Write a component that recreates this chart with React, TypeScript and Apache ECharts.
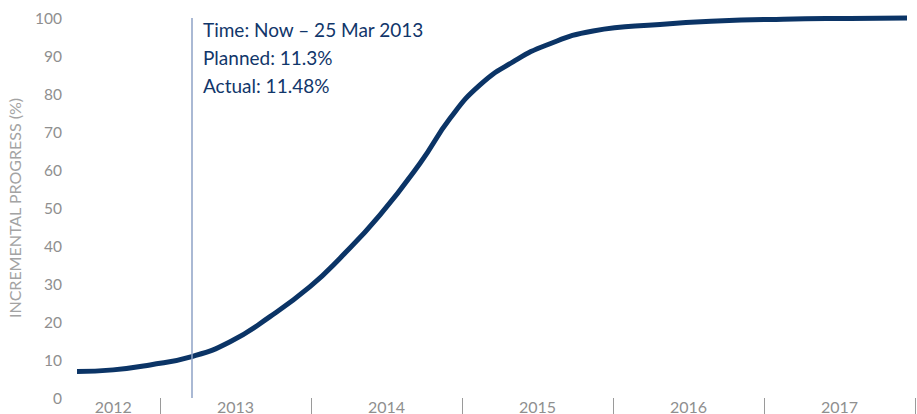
import React, { useEffect, useRef } from "react";
import * as echarts from "echarts";

const years = [2012.45, 2012.689, 2012.934, 2013.21, 2013.464, 2013.728, 2013.993, 2014.192, 2014.457, 2014.722, 2014.921, 2015.119, 2015.34, 2015.561, 2015.868, 2016.311, 2016.689, 2017.126, 2017.57, 2017.947];
const progress = [7.0, 7.4, 8.7, 10.9, 14.8, 21.4, 29.3, 36.8, 48.2, 61.8, 73.6, 82.4, 88.5, 92.9, 96.6, 98.3, 99.2, 99.7, 99.9, 100.0];
const yearTicks = [2013, 2014, 2015, 2016, 2017, 2018];
const yearLabelPositions = [2012.69, 2013.5, 2014.5, 2015.5, 2016.5, 2017.5];
const nowYear = 2013.21;
const annotationLines = ["Time: Now \u2013 25 Mar 2013", "Planned: 11.3%", "Actual: 11.48%"];

const FONT = "Lato, 'Open Sans', sans-serif";

export default function App() {
  const ref = useRef<HTMLDivElement>(null);
  useEffect(() => {
    if (!ref.current) return;
    const chart = echarts.init(ref.current, undefined, { renderer: "svg" });
    chart.setOption({
      animation: false,
      backgroundColor: "#ffffff",
      grid: { left: 66, right: 2, top: 18, bottom: 16, containLabel: false, outerBoundsMode: "none" },
      xAxis: {
        type: "value",
        min: 2012.377,
        max: 2018,
        axisLine: { show: false },
        splitLine: { show: false },
        axisTick: {
          show: true,
          customValues: yearTicks,
          length: 16,
          lineStyle: { color: "#9a9a9a", width: 1 },
        },
        axisLabel: {
          customValues: yearLabelPositions,
          formatter: (v: number) => String(Math.floor(v)),
          color: "#8f8f8f",
          fontSize: 16,
          fontFamily: FONT,
          margin: 0,
        },
      },
      yAxis: {
        type: "value",
        min: 0,
        max: 100,
        interval: 10,
        name: "INCREMENTAL PROGRESS (%)",
        nameLocation: "middle",
        nameGap: 44,
        nameRotate: 90,
        nameTextStyle: { color: "#a3a3a3", fontSize: 16, fontFamily: FONT },
        axisLine: { show: false },
        axisTick: { show: false },
        splitLine: { show: false },
        axisLabel: { color: "#8f8f8f", fontSize: 15.5, fontFamily: FONT, margin: 4 },
      },
      series: [
        {
          type: "line",
          data: years.map((y, i) => [y, progress[i]]),
          smooth: 0.5,
          showSymbol: false,
          symbol: "none",
          clip: false,
          lineStyle: { color: "#0b3466", width: 5 },
          markLine: {
            silent: true,
            symbol: "none",
            label: { show: false },
            lineStyle: { color: "#8ea2c6", width: 1.5, type: "solid" },
            data: [{ xAxis: nowYear }],
          },
        },
      ],
      graphic: [
        {
          type: "text",
          left: 203,
          top: 15,
          style: {
            text: annotationLines.join("\n"),
            fill: "#11366a",
            fontSize: 19,
            lineHeight: 28,
            fontFamily: FONT,
          },
        },
      ],
    });
    return () => chart.dispose();
  }, []);
  return <div ref={ref} style={{ width: 917, height: 414, position: "absolute", left: 0, top: 0 }} />;
}
